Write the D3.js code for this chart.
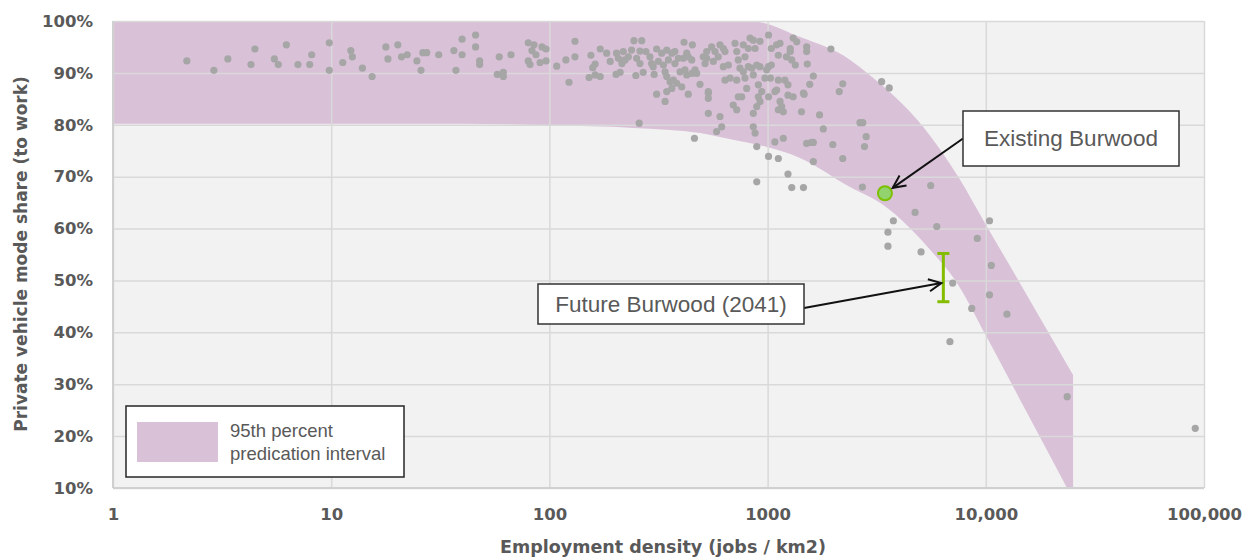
<!DOCTYPE html>
<html>
<head>
<meta charset="utf-8">
<script src="https://cdn.jsdelivr.net/npm/d3@7"></script>
<style>
  html, body { margin: 0; padding: 0; background: #ffffff; }
  svg { display: block; }
</style>
</head>
<body>
<svg id="chart" width="1250" height="557"></svg>
<script>
// ---- Axis ticks ----
const xTicks = [1, 10, 100, 1000, 10000, 100000];
const xTickLabels = ["1", "10", "100", "1000", "10,000", "100,000"];
const yTicks = [10, 20, 30, 40, 50, 60, 70, 80, 90, 100];
const yTickLabels = ["10%", "20%", "30%", "40%", "50%", "60%", "70%", "80%", "90%", "100%"];

// ---- 95th percentile prediction interval: [density, share %] ----
const upperEdge = [
  [1, 100], [830, 100], [1410, 96.9], [2390, 92.5], [2860, 90.0], [5160, 79.6],
  [7620, 69.4], [9710, 61.7], [14060, 50.1], [25120, 31.8]
];
const lowerEdge = [
  [1, 80.2], [40, 80.2], [100, 79.9], [242, 79.4], [490, 78.4], [694, 77.1],
  [993, 75.7], [1407, 73.6], [2387, 68.0], [3380, 64.6], [5730, 55.3],
  [7228, 50.1], [9980, 39.5], [15450, 24.5], [23560, 10]
];

// ---- Observed areas: [employment density (jobs/km2), private vehicle share %] ----
const observations = [
  [2.18,92.3],[2.9,90.5],[3.36,92.7],[4.29,91.6],[4.47,94.6],[5.49,92.7],[5.72,91.6],[6.23,95.4],
  [7.04,91.6],[7.97,91.6],[8.14,93.5],[9.8,95.8],[9.8,90.5],[11.3,92.0],[12.3,94.3],[12.5,93.1],
  [13.9,90.9],[15.4,89.3],[17.8,95.0],[18.2,92.7],[20.2,95.4],[21.0,93.1],[22.3,93.5],[24.7,92.3],
  [25.8,90.5],[26.3,93.9],[27.4,93.9],[31.1,93.5],[36.5,94.3],[37.3,90.5],[39.8,96.5],[39.8,93.5],
  [45.9,97.3],[45.9,95.0],[47.9,92.3],[47.9,91.6],[58.9,93.1],[57.7,89.7],[61.5,90.1],[61.5,89.3],
  [66.7,93.5],[80,95.8],[85,95.4],[83.2,94.3],[86.8,93.5],[80,92.3],[81.5,91.6],[90.6,92.0],
  [92.5,95.0],[96.5,94.6],[96.5,92.3],[108,91.3],
  [119,92.5],[131,96.1],[131,93.1],[123,88.2],[155,93.4],[171,94.6],[183,93.8],[162,91.7],
  [158,91.0],[152,89.1],[162,89.6],[171,89.3],[190,92.2],[203,93.8],[207,92.8],[218,94.1],
  [222,92.5],[230,93.1],[215,91.8],[202,89.7],[211,90.1],[244,96.2],[265,96.2],[238,94.4],
  [260,94.2],[277,94.1],[251,92.8],[260,91.8],[249,89.5],[269,90.1],[289,93.1],[294,91.8],
  [299,91.2],[302,89.7],[310,94.6],[327,93.8],[316,92.2],[333,91.5],[345,94.4],[364,93.8],
  [376,94.1],[351,92.5],[376,91.8],[390,92.8],[339,90.2],[345,89.3],[357,88.3],[370,88.6],
  [310,85.9],[339,84.5],[345,86.4],[364,87.0],[383,88.0],[404,87.3],[397,90.2],[418,90.6],
  [426,89.6],[449,89.9],[411,92.8],[433,93.1],[449,92.5],[414,95.9],[452,95.4],[426,93.8],
  [465,90.6],[473,89.9],[490,87.8],[433,85.9],[507,93.1],[526,94.1],[517,91.8],[535,86.1],
  [535,85.1],[535,82.2],[258,80.3],[462,77.4],
  [554,95.0],[574,94.1],[594,93.1],[526,92.8],[564,92.2],[605,95.4],[627,94.7],[638,94.1],
  [627,91.2],[661,91.5],[709,95.7],[722,94.1],[734,92.5],[774,95.4],[788,93.1],[831,96.7],
  [860,96.3],[816,94.7],[876,94.7],[923,96.1],[747,90.9],[774,90.2],[816,91.2],[846,90.9],
  [892,91.5],[923,91.2],[638,88.6],[673,89.0],[722,88.6],[788,89.0],[860,89.6],[802,87.0],
  [907,87.7],[1010,97.3],[1040,94.7],[1100,95.4],[1140,95.7],[1010,91.2],[1040,91.5],[990,90.6],
  [1030,89.0],[973,89.0],[1120,93.4],[1220,93.1],[1270,94.1],[1290,92.5],[1340,91.5],[1360,96.0],
  [1310,96.7],[1270,94.7],[1120,88.6],[1200,88.6],[1240,87.7],[1100,86.7],[1080,86.4],[940,86.4],
  [907,85.4],[923,84.5],[892,83.5],[535,86.4],[734,85.4],[761,85.4],[1010,85.4],[1140,84.5],
  [1160,83.5],[1120,82.9],[1180,82.5],[696,83.8],[722,82.9],[605,81.6],[860,82.2],[1240,85.7],
  [1310,85.4],[1430,82.5],[1460,86.1],[616,79.6],[584,78.7],[860,79.6],[876,78.4],[1080,76.7],
  [1180,77.4],[892,75.8],[1010,73.9],[1120,73.5],[1510,76.4],[892,69.0],[1290,67.9],[1460,67.9],
  [1240,70.5],
  [1510,95.0],[1510,94.1],[1950,94.6],[1520,91.7],[1620,89.4],[1560,87.8],[1470,85.9],[2210,87.9],
  [2130,86.4],[3330,88.3],[3610,87.1],[1730,81.9],[1800,79.2],[2650,80.4],[2730,80.4],[2830,77.7],
  [2780,75.8],[1590,76.6],[1620,76.6],[1990,76.2],[1620,72.9],[2210,73.5],[2720,68.0],
  [5590,68.3],[4740,63.1],[3770,61.5],[3560,59.3],[5960,60.4],[3560,56.6],[5050,55.5],[10400,61.5],
  [9140,58.1],[10600,52.9],[7050,49.5],[10400,47.2],[8620,44.6],[12500,43.5],[6850,38.2],
  [23600,27.6],[91200,21.5]
];

// ---- Burwood ----
const existingDensity = 3450, existingShare = 66.8;
const futureDensity = 6390, futureShare = 49.5, futureLow = 45.9, futureHigh = 55.2;

// ---- Layout ----
const plot = { left: 113, top: 21, right: 1204, bottom: 488 };
const tickFont = "'DejaVu Sans', sans-serif";
const bodyFont = "'Liberation Sans', Arial, sans-serif";
const textGrey = "#595959";
const bandFill = "#d9c1d8";

const svg = d3.select("#chart");
const x = d3.scaleLog().domain([1, 100000]).range([plot.left, plot.right]);
const y = d3.scaleLinear().domain([10, 100]).range([plot.bottom, plot.top]);

// plot background
svg.append("rect")
  .attr("x", plot.left).attr("y", plot.top)
  .attr("width", plot.right - plot.left).attr("height", plot.bottom - plot.top)
  .attr("fill", "#f2f2f2");

// prediction interval band
const edge = d3.line().x(d => x(d[0])).y(d => y(d[1])).curve(d3.curveMonotoneX);
const upperEnd = upperEdge[upperEdge.length - 1];
const bandPath = edge(upperEdge)
  + `L${x(upperEnd[0])},${y(10)}`
  + "L" + edge(lowerEdge.slice().reverse()).slice(1) + "Z";
svg.append("path").attr("d", bandPath).attr("fill", bandFill);

// gridlines
const gridX = svg.append("g")
  .attr("transform", `translate(0,${plot.bottom})`)
  .call(d3.axisBottom(x).tickValues(xTicks).tickSize(-(plot.bottom - plot.top)).tickFormat(""));
const gridY = svg.append("g")
  .attr("transform", `translate(${plot.left},0)`)
  .call(d3.axisLeft(y).tickValues(yTicks).tickSize(-(plot.right - plot.left)).tickFormat(""));
[gridX, gridY].forEach(g => {
  g.select(".domain").remove();
  g.selectAll("line").attr("stroke", "#d9d9d9").attr("stroke-width", 1.5);
});
// axis lines
svg.append("line").attr("x1", plot.left).attr("x2", plot.right)
  .attr("y1", plot.bottom).attr("y2", plot.bottom)
  .attr("stroke", "#d0d0d0").attr("stroke-width", 2);
svg.append("line").attr("x1", plot.left).attr("x2", plot.left)
  .attr("y1", plot.top).attr("y2", plot.bottom)
  .attr("stroke", "#d0d0d0").attr("stroke-width", 2);

// tick labels
const xAxis = svg.append("g")
  .attr("transform", `translate(0,${plot.bottom})`)
  .call(d3.axisBottom(x).tickValues(xTicks).tickSize(0).tickPadding(20)
    .tickFormat((d, i) => xTickLabels[i]));
const yAxis = svg.append("g")
  .attr("transform", `translate(${plot.left},0)`)
  .call(d3.axisLeft(y).tickValues(yTicks).tickSize(0).tickPadding(20)
    .tickFormat((d, i) => yTickLabels[i]));
[xAxis, yAxis].forEach(g => {
  g.select(".domain").remove();
  g.selectAll("text")
    .attr("fill", textGrey)
    .style("font-family", tickFont)
    .style("font-weight", "bold")
    .style("font-size", "16.5px");
});

// axis titles
svg.append("text")
  .attr("x", 663).attr("y", 553)
  .attr("text-anchor", "middle")
  .attr("fill", textGrey)
  .style("font-family", tickFont).style("font-weight", "bold").style("font-size", "17.5px")
  .text("Employment density (jobs / km2)");
svg.append("text")
  .attr("transform", "translate(27,254) rotate(-90)")
  .attr("text-anchor", "middle")
  .attr("fill", textGrey)
  .style("font-family", tickFont).style("font-weight", "bold").style("font-size", "17px")
  .text("Private vehicle mode share (to work)");

// observations
svg.append("g").selectAll("circle")
  .data(observations)
  .join("circle")
  .attr("cx", d => x(d[0]))
  .attr("cy", d => y(d[1]))
  .attr("r", 3.6)
  .attr("fill", "#a6a6a6");

// future Burwood range
const green = "#84bd00";
const fx = x(futureDensity);
const futureG = svg.append("g").attr("stroke", green).attr("stroke-width", 3);
futureG.append("line").attr("x1", fx).attr("x2", fx).attr("y1", y(futureHigh)).attr("y2", y(futureLow));
futureG.append("line").attr("x1", fx - 6).attr("x2", fx + 6).attr("y1", y(futureHigh)).attr("y2", y(futureHigh));
futureG.append("line").attr("x1", fx - 6).attr("x2", fx + 6).attr("y1", y(futureLow)).attr("y2", y(futureLow));

// existing Burwood
svg.append("circle")
  .attr("cx", x(existingDensity)).attr("cy", y(existingShare))
  .attr("r", 7)
  .attr("fill", "#92d36e").attr("stroke", "#7cc000").attr("stroke-width", 2);

// callouts
function arrow(x1, y1, x2, y2) {
  const g = svg.append("g").attr("stroke", "#111").attr("stroke-width", 2).attr("fill", "none");
  g.append("line").attr("x1", x1).attr("y1", y1).attr("x2", x2).attr("y2", y2);
  const a = Math.atan2(y1 - y2, x1 - x2), len = 14, spread = 0.45;
  g.append("path")
    .attr("d", `M${x2 + len * Math.cos(a - spread)},${y2 + len * Math.sin(a - spread)}L${x2},${y2}L${x2 + len * Math.cos(a + spread)},${y2 + len * Math.sin(a + spread)}`);
}
function callout(bx, by, bw, bh, label, baselineOffset) {
  svg.append("rect")
    .attr("x", bx).attr("y", by).attr("width", bw).attr("height", bh)
    .attr("fill", "#ffffff").attr("stroke", "#333333").attr("stroke-width", 1.5);
  svg.append("text")
    .attr("x", bx + bw / 2).attr("y", by + baselineOffset)
    .attr("text-anchor", "middle")
    .attr("fill", textGrey)
    .style("font-family", bodyFont).style("font-size", "22.5px")
    .text(label);
}

// existing callout
const ex = x(existingDensity), ey = y(existingShare);
const exStart = [963, 138.5];
{
  const dx = exStart[0] - ex, dy = exStart[1] - ey, L = Math.hypot(dx, dy);
  arrow(exStart[0], exStart[1], ex + dx / L * 9.5, ey + dy / L * 9.5);
}
callout(963, 111, 216, 55, "Existing Burwood", 35);

// future callout
arrow(804, 308, fx - 2, y(futureShare));
callout(538, 284, 266, 40, "Future Burwood (2041)", 28);

// legend
svg.append("rect")
  .attr("x", 126).attr("y", 406).attr("width", 278).attr("height", 71)
  .attr("fill", "#ffffff").attr("stroke", "#262626").attr("stroke-width", 1.5);
svg.append("rect")
  .attr("x", 137).attr("y", 422).attr("width", 81).attr("height", 40)
  .attr("fill", bandFill);
const legendText = svg.append("text")
  .attr("fill", textGrey)
  .style("font-family", bodyFont).style("font-size", "18.5px");
legendText.append("tspan").attr("x", 230).attr("y", 437).text("95th percent");
legendText.append("tspan").attr("x", 230).attr("y", 460).text("predication interval");
</script>
</body>
</html>
